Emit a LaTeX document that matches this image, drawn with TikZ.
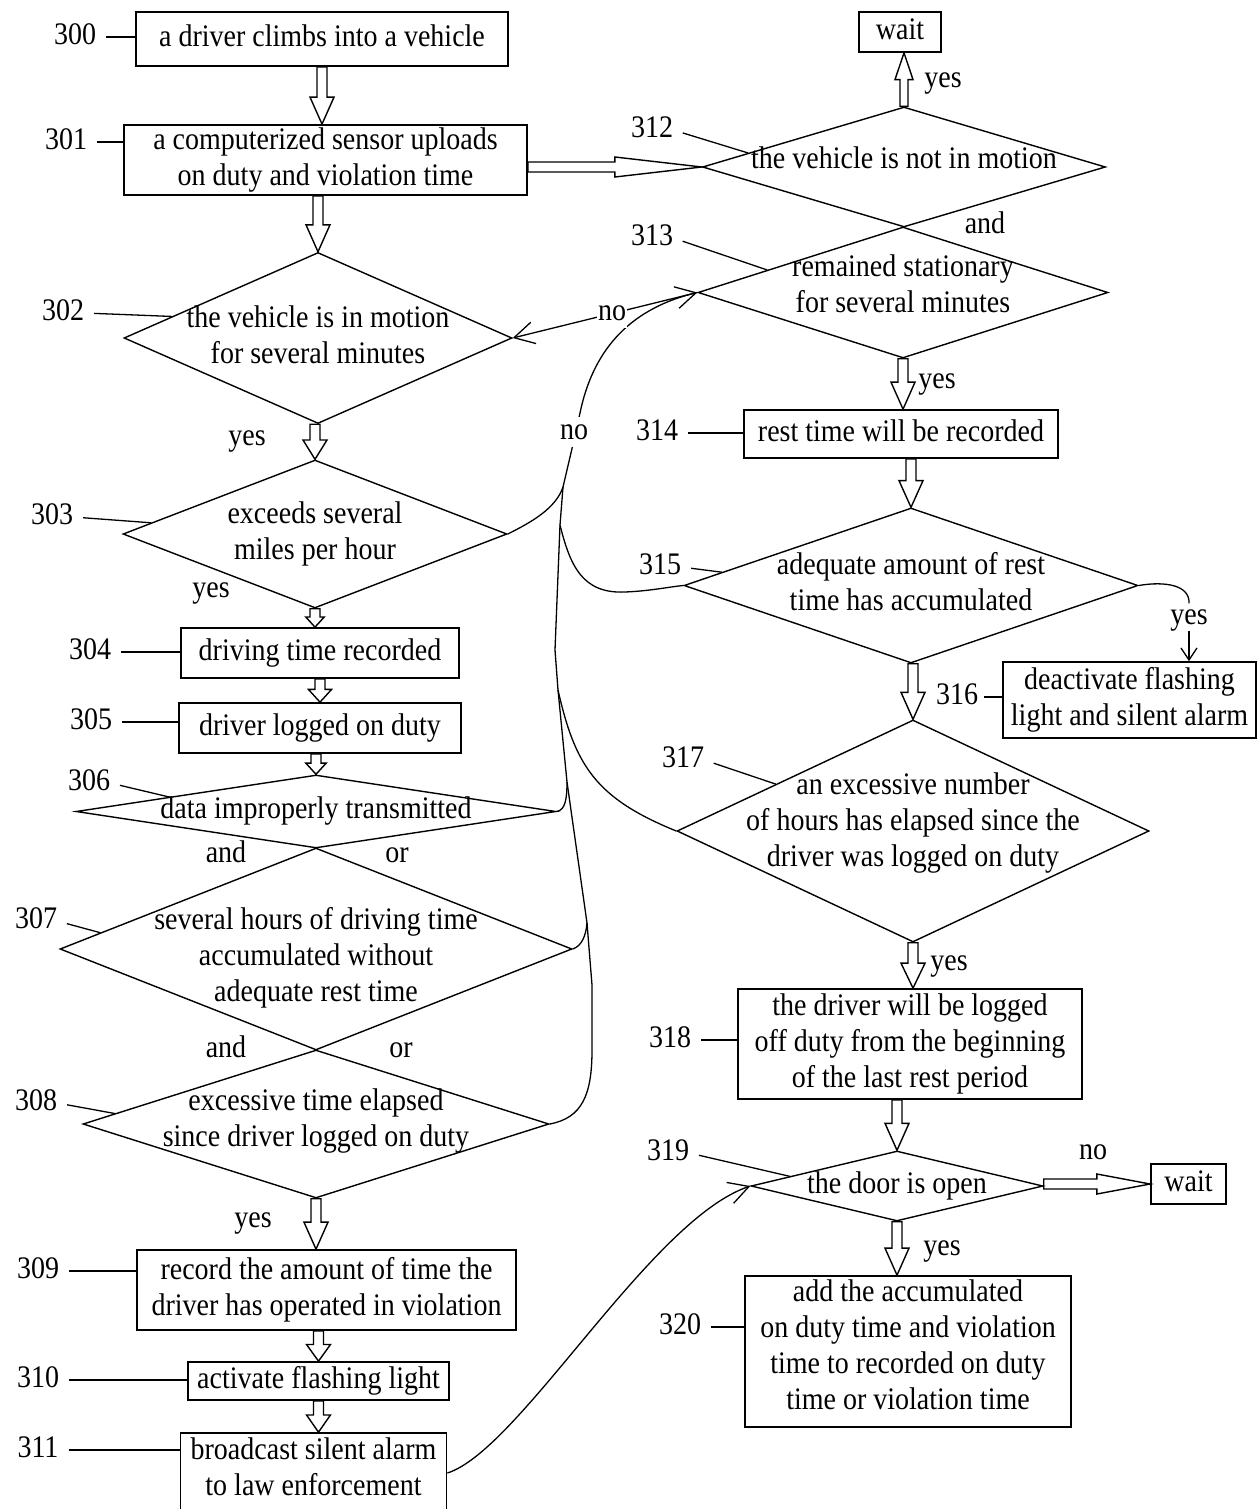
\documentclass[tikz,border=0pt]{standalone}
\usepackage{fontspec}
\setmainfont{Liberation Serif}
\usepackage{graphicx}
\usetikzlibrary{arrows.meta,calc,shapes.geometric}
\newcommand{\tx}[2][0pt]{\smash{\makebox[0pt]{\raisebox{\dimexpr-7pt-#1\relax}{\scalebox{1}[1.12]{\fontsize{28}{32}\selectfont\begin{tabular}{@{}c@{}}#2\end{tabular}}}}}}
\begin{document}
\begin{tikzpicture}[x=1pt,y=-1pt,
  fnt/.style={font=\fontsize{28}{32}\selectfont},
  box/.style={draw, rectangle, line width=1.7pt, inner sep=0pt, fnt},
  dia/.style={draw, diamond, line width=1.4pt, inner sep=0pt, fnt},
  lbl/.style={fnt, inner sep=0pt, text height=19pt, text depth=5pt, yscale=1.12},
  wl/.style={lbl, fill=white, inner sep=1pt},
  lead/.style={line width=1.3pt, shorten <=10pt},
  cur/.style={line width=1.3pt},
  arr/.style={-{Straight Barb[length=20pt,width=22pt]}},
  sarr/.style={-{Straight Barb[length=12pt,width=16pt]}},
  hol/.style={line width=1.4pt},
  hd/.style={to path={let \p1=(\tikztostart), \p2=(\tikztotarget),
     \n1={min(27,0.55*(\y1-\y2))}, \n2={min(12,0.5*(\y1-\y2))} in
     (\x2-5pt,\y1) -- (\x2-5pt,\y2+\n1*1pt) -- (\x2-\n2*1pt,\y2+\n1*1pt) -- (\x2,\y2)
     -- (\x2+\n2*1pt,\y2+\n1*1pt) -- (\x2+5pt,\y2+\n1*1pt) -- (\x2+5pt,\y1) -- cycle}},
  hu/.style={to path={let \p1=(\tikztostart), \p2=(\tikztotarget),
     \n1={0.5*(\y2-\y1)} in
     (\x1-4pt,\y1) -- (\x1-4pt,\y2-\n1*1pt) -- (\x1-9pt,\y2-\n1*1pt) -- (\x1,\y2)
     -- (\x1+9pt,\y2-\n1*1pt) -- (\x1+4pt,\y2-\n1*1pt) -- (\x1+4pt,\y1) -- cycle}},
  hr/.style={to path={let \p1=(\tikztostart), \p2=(\tikztotarget),
     \n1={0.5*(\x2-\x1)} in
     (\x1,\y2+5pt) -- (\x2-\n1*1pt,\y2+5pt) -- (\x2-\n1*1pt,\y2+10pt) -- (\x2,\y2)
     -- (\x2-\n1*1pt,\y2-10pt) -- (\x2-\n1*1pt,\y2-5pt) -- (\x1,\y2-5pt) -- cycle}}
]
\useasboundingbox (0,0) rectangle (1259,1509);
\clip (0,0) rectangle (1259,1509);

% ---------- left column ----------
\node[box, minimum width=372pt, minimum height=54pt] (n300) at (322,39) {\tx{a driver climbs into a vehicle}};
\node[box, minimum width=403pt, minimum height=70pt] (n301) at (325.5,160) {\tx{a computerized sensor uploads\\on duty and violation time}};
\node[dia, minimum width=388pt, minimum height=171pt] (n302) at (318,338) {\tx{the vehicle is in motion\\for several minutes}};
\node[dia, minimum width=384pt, minimum height=148pt] (n303) at (315,534) {\tx{exceeds several\\miles per hour}};
\node[box, minimum width=278pt, minimum height=50pt] (n304) at (320,653) {\tx{driving time recorded}};
\node[box, minimum width=282pt, minimum height=50pt] (n305) at (320,728) {\tx{driver logged on duty}};
\node[dia, minimum width=480pt, minimum height=73pt] (n306) at (316,811.5) {\tx{data improperly transmitted}};
\node[dia, minimum width=512pt, minimum height=202pt] (n307) at (316,949) {\tx[9pt]{several hours of driving time\\accumulated without\\adequate rest time}};
\node[dia, minimum width=466pt, minimum height=148pt] (n308) at (316,1124) {\tx[-3pt]{excessive time elapsed\\since driver logged on duty}};
\node[box, minimum width=379pt, minimum height=80pt] (n309) at (326.5,1290) {\tx{record the amount of time the\\driver has operated in violation}};
\node[box, minimum width=261pt, minimum height=38pt] (n310) at (318.5,1381) {\tx{activate flashing light}};
\node[box, minimum width=266pt, minimum height=80pt] (n311) at (313.5,1473) {\tx[-3pt]{broadcast silent alarm\\to law enforcement}};

% ---------- right column ----------
\node[box, minimum width=82pt, minimum height=40pt] (w1) at (900,32) {\tx{wait}};
\node[dia, minimum width=403pt, minimum height=120pt] (n312) at (904,167) {\tx[-6pt]{the vehicle is not in motion}};
\node[dia, minimum width=410pt, minimum height=131pt] (n313) at (903,292.5) {\tx[-5pt]{remained stationary\\for several minutes}};
\node[box, minimum width=314pt, minimum height=48pt] (n314) at (901,434) {\tx{rest time will be recorded}};
\node[dia, minimum width=454pt, minimum height=155pt] (n315) at (911,585.5) {\tx{adequate amount of rest\\time has accumulated}};
\node[box, minimum width=253pt, minimum height=76pt] (n316) at (1129.5,700) {\tx{deactivate flashing\\light and silent alarm}};
\node[dia, minimum width=472pt, minimum height=222pt] (n317) at (913,831) {\tx[-8pt]{an excessive number\\of hours has elapsed since the\\driver was logged on duty}};
\node[box, minimum width=344pt, minimum height=110pt] (n318) at (910,1044) {\tx{the driver will be logged\\off duty from the beginning\\of the last rest period}};
\node[dia, minimum width=292pt, minimum height=70pt] (n319) at (897,1186) {\tx{the door is open}};
\node[box, minimum width=75pt, minimum height=40pt] (w2) at (1188.5,1184) {\tx{wait}};
\node[box, minimum width=326pt, minimum height=151pt] (n320) at (908,1351.5) {\tx[-3pt]{add the accumulated\\on duty time and violation\\time to recorded on duty\\time or violation time}};

% ---------- reference numerals ----------
\node[lbl] (l300) at (75,37) {300};
\node[lbl] (l301) at (66,142) {301};
\node[lbl] (l302) at (63,313) {302};
\node[lbl] (l303) at (52,517) {303};
\node[lbl] (l304) at (90,652) {304};
\node[lbl] (l305) at (91,722) {305};
\node[lbl] (l306) at (89,783) {306};
\node[lbl] (l307) at (36,921) {307};
\node[lbl] (l308) at (36,1103) {308};
\node[lbl] (l309) at (38,1271) {309};
\node[lbl] (l310) at (38,1380) {310};
\node[lbl] (l311) at (38,1450) {311};
\node[lbl] (l312) at (652,130) {312};
\node[lbl] (l313) at (652,238) {313};
\node[lbl] (l314) at (657,433) {314};
\node[lbl] (l315) at (660,567) {315};
\node[lbl] (l316) at (957,697) {316};
\node[lbl] (l317) at (683,760) {317};
\node[lbl] (l318) at (670,1040) {318};
\node[lbl] (l319) at (668,1153) {319};
\node[lbl] (l320) at (680,1327) {320};

\draw[lead] (l300.east) -- (l300.east -| n300.west);
\draw[lead] (l301.east) -- (l301.east -| n301.west);
\draw[lead] (l302.east) -- ($(n302.west)!0.25!(n302.north)$);
\draw[lead] (l303.east) -- ($(n303.west)!0.15!(n303.north)$);
\draw[lead] (l304.east) -- (l304.east -| n304.west);
\draw[lead] (l305.east) -- (l305.east -| n305.west);
\draw[lead] (l306.east) -- ($(n306.west)!0.39!(n306.north)$);
\draw[lead] (l307.east) -- ($(n307.west)!0.16!(n307.north)$);
\draw[lead] (l308.east) -- ($(n308.west)!0.14!(n308.north)$);
\draw[lead] (l309.east) -- (l309.east -| n309.west);
\draw[lead] (l310.east) -- (l310.east -| n310.west);
\draw[lead] (l311.east) -- (l311.east -| n311.west);
\draw[lead] (l312.east) -- ($(n312.west)!0.23!(n312.north)$);
\draw[lead] (l313.east) -- ($(n313.west)!0.34!(n313.north)$);
\draw[lead] (l314.east) -- (l314.east -| n314.west);
\draw[lead] (l315.east) -- ($(n315.west)!0.17!(n315.north)$);
\draw[lead, shorten <=6pt] (l316.east) -- (l316.east -| n316.west);
\draw[lead] (l317.east) -- ($(n317.west)!0.42!(n317.north)$);
\draw[lead] (l318.east) -- (l318.east -| n318.west);
\draw[lead] (l319.east) -- ($(n319.west)!0.27!(n319.north)$);
\draw[lead] (l320.east) -- (l320.east -| n320.west);

% ---------- hollow flow arrows ----------
\draw[hol] (n300.south) to[hd] (n300.south |- n301.north);
\draw[hol] (n301.south) to[hd] (n302.north);
\draw[hol] (n302.south) to[hd] (n303.north);
\draw[hol] (n303.south) to[hd] (n303.south |- n304.north);
\draw[hol] (n304.south) to[hd] (n304.south |- n305.north);
\draw[hol] (n305.south) to[hd] (n306.north);
\draw[hol] (n308.south) to[hd] (n308.south |- n309.north);
\draw[hol] (n309.south) to[hd] (n310.north);
\draw[hol] (n310.south) to[hd] (n310.south |- n311.north);
\draw[hol] (n312.north) to[hu] (w1.south);
\draw[hol] (n301.east) to[hr] (n312.west);
\draw[hol] (n313.south) to[hd] (n313.south |- n314.north);
\draw[hol] (n314.south) to[hd] (n315.north);
\draw[hol] (n315.south) to[hd] (n317.north);
\draw[hol] (n317.south) to[hd] (n317.south |- n318.north);
\draw[hol] (n318.south) to[hd] (n319.north);
\draw[hol] (n319.south) to[hd] (n319.south |- n320.north);
\draw[hol] (n319.east) to[hr] (w2.west);

% ---------- thin connectors ----------
\coordinate (j1) at (563,487);
\coordinate (j2) at (560,525);
\coordinate (j3) at (558,690);
\coordinate (j4) at (567,782);
\coordinate (j5) at (587,923);

\draw[cur, arr] (n313.west) -- (n302.east);
\draw[cur, arr] (n308.east) .. controls (582,1118) and (592,1095) .. (592,1050) -- (592,985) -- (j5) -- (j4) -- (j3) -- (555,650) -- (j2) -- (j1) -- (574,440) -- (580,413) .. controls (592,355) and (625,310) .. (n313.west);
\draw[cur] (n303.east) .. controls (532,522) and (556,508) .. (j1);
\draw[cur] (j2) .. controls (570,565) and (582,594) .. (625,592) .. controls (650,591) and (668,587) .. (n315.west);
\draw[cur] (j3) .. controls (575,765) and (595,798) .. (n317.west);
\draw[cur] (n306.east) .. controls (565,810) and (567,800) .. (j4);
\draw[cur] (n307.east) .. controls (582,946) and (586,935) .. (j5);

\node[lbl] (y316) at (1189,617) {yes};
\draw[cur] (n315.east) .. controls (1165,581) and (1190,585) .. (y316.north);
\draw[cur, sarr] (y316.south) -- (y316.south |- n316.north);

\draw[cur, arr] (n311.east) .. controls (520,1450) and (650,1220) .. (n319.west);

% ---------- branch words ----------
\node[wl] (no1) at (612,313) {no};
\node[wl] (no2) at (574,432) {no};
\node[lbl] (y302) at (247,438) {yes};
\node[lbl] (y303) at (211,590) {yes};
\node[lbl] (a306) at (226,855) {and};
\node[lbl] (o306) at (397,855) {or};
\node[lbl] (a307) at (226,1050) {and};
\node[lbl] (o307) at (401,1050) {or};
\node[lbl] (y308) at (253,1220) {yes};
\node[lbl] (y312) at (943,80) {yes};
\node[lbl] (a312) at (985,226) {and};
\node[lbl] (y313) at (937,381) {yes};
\node[lbl] (y317) at (949,963) {yes};
\node[lbl] (n319no) at (1093,1152) {no};
\node[lbl] (y319) at (942,1248) {yes};
\end{tikzpicture}
\end{document}
